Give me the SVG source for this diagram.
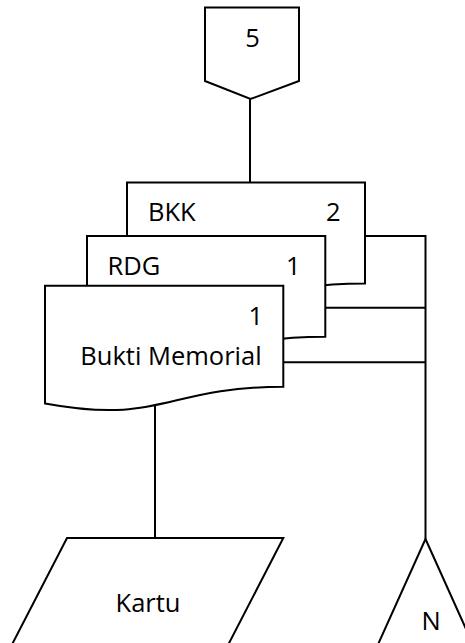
<svg xmlns="http://www.w3.org/2000/svg" width="465" height="643" viewBox="0 0 465 643">
  <style>
    .shape { fill: #ffffff; stroke: #000000; stroke-width: 2; stroke-linejoin: miter; }
    .wire { fill: none; stroke: #000000; stroke-width: 2; }
    .label { font-family: "Open Sans", "Liberation Sans", sans-serif; font-size: 25.5px; fill: #000000; }
  </style>
  <rect width="465" height="643" fill="#ffffff"/>

  <!-- connectors -->
  <g id="connectors">
    <line class="wire" x1="250" y1="99" x2="250" y2="182.5"/>
    <line class="wire" x1="155" y1="405" x2="155" y2="538"/>
    <polyline class="wire" points="365,236 425.5,236 425.5,539"/>
    <line class="wire" x1="325.3" y1="307.7" x2="425.5" y2="307.7"/>
    <line class="wire" x1="283.3" y1="362.3" x2="425.5" y2="362.3"/>
  </g>

  <!-- off-page connector "5" -->
  <g id="node-5">
    <polygon class="shape" points="205,7.5 299,7.5 299,81 250.5,99 205,81"/>
    <text class="label" x="252.5" y="47" text-anchor="middle">5</text>
  </g>

  <!-- document BKK (back) -->
  <g id="doc-bkk">
    <path class="shape" d="M127,182.5 H365 V283.5 C246,283.5 246,322 127,300.2 Z"/>
    <text class="label" x="148" y="220.7">BKK</text>
    <text class="label" x="340.5" y="220.7" text-anchor="end">2</text>
  </g>

  <!-- document RDG (middle) -->
  <g id="doc-rdg">
    <path class="shape" d="M87,236 H325.3 V336.7 C206,336.7 206,375 87,353.2 Z"/>
    <text class="label" x="107.5" y="275">RDG</text>
    <text class="label" x="300.5" y="275" text-anchor="end">1</text>
  </g>

  <!-- document Bukti Memorial (front) -->
  <g id="doc-bukti-memorial">
    <path class="shape" d="M45,285.7 H283.3 V386.8 C164.2,386.8 164.2,425.2 45,403.4 Z"/>
    <text class="label" x="263" y="325" text-anchor="end">1</text>
    <text class="label" x="171" y="365" text-anchor="middle">Bukti Memorial</text>
  </g>

  <!-- data / card "Kartu" -->
  <g id="node-kartu">
    <polygon class="shape" points="67,538 283.3,538 220.3,660 4,660"/>
    <text class="label" x="148" y="612" text-anchor="middle">Kartu</text>
  </g>

  <!-- off-page connector "N" -->
  <g id="node-n">
    <polygon class="shape" points="425.5,539 480,660 371,660"/>
    <text class="label" x="431" y="630" text-anchor="middle">N</text>
  </g>
</svg>
